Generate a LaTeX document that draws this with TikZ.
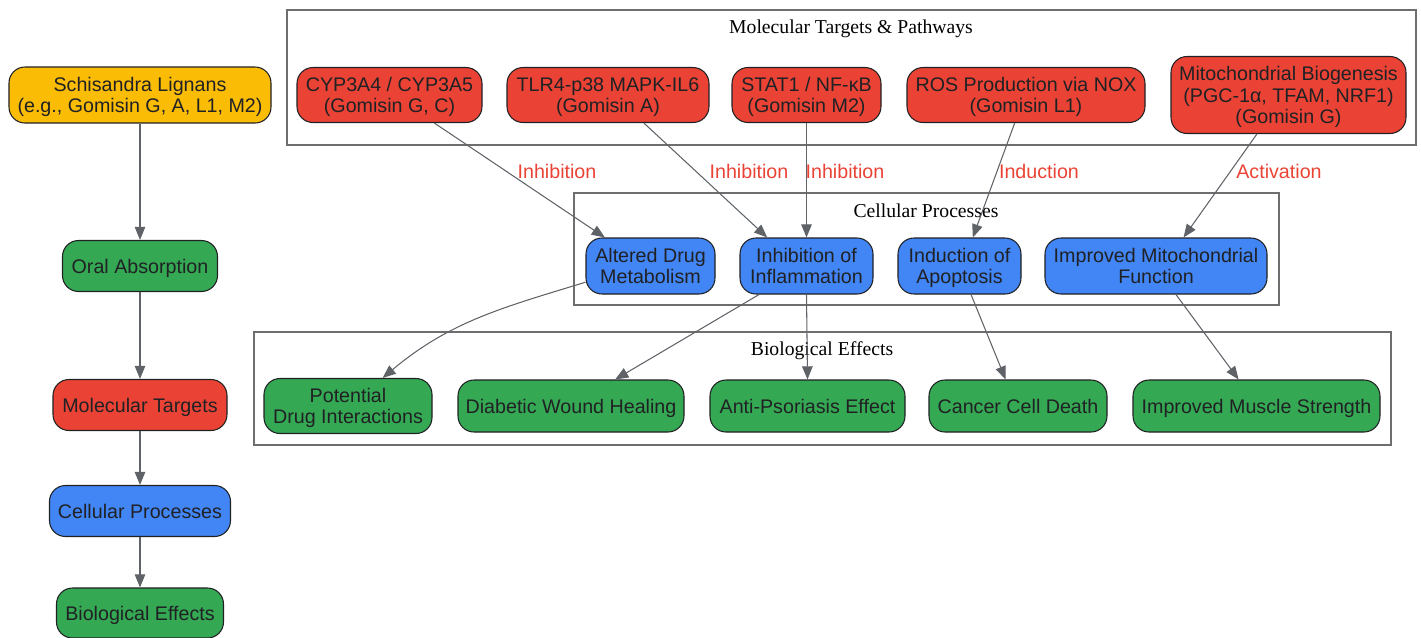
\documentclass[tikz,border=0pt]{standalone}
\usepackage{fontspec}
\setmainfont{Liberation Sans}
\newfontfamily\serifface{Liberation Serif}
\usetikzlibrary{arrows.meta}
\definecolor{gyellow}{HTML}{FBBC05}
\definecolor{gred}{HTML}{EA4335}
\definecolor{gblue}{HTML}{4285F4}
\definecolor{ggreen}{HTML}{34A853}
\definecolor{linkgray}{HTML}{5F6368}
\definecolor{framegray}{HTML}{6E6E6E}
\definecolor{boxtext}{HTML}{202124}

\begin{document}
\begin{tikzpicture}[x=0.02cm, y=-0.02cm,
	box/.style={draw=boxtext, line width=0.6pt, rounded corners=0.32cm, inner sep=0pt, text depth=0pt, align=center, text=boxtext, font=\fontsize{11.2}{12.2}\selectfont},
	sz/.style 2 args={minimum width=#1*0.02cm, minimum height=#2*0.02cm},
	link/.style={draw=linkgray, line width=0.6pt, -{Triangle[length=7.5pt,width=6pt]}},
	cluster/.style={draw=framegray, line width=0.6pt},
	clabel/.style={font=\serifface\fontsize{11.2}{12.2}\selectfont, text=black},
	elabel/.style={font=\fontsize{11.2}{12.2}\selectfont, text=gred}]
	\useasboundingbox (0,0) rectangle (1421,637);

	\draw[cluster] (287,10) rectangle (1416,145);
	\draw[cluster] (574,193) rectangle (1279,305);
	\draw[cluster] (254,332) rectangle (1391,445);
	\node[clabel] (molLabel) at (851,29) {Molecular Targets \& Pathways};
	\node[clabel] (cellLabel) at (926,211) {Cellular Processes};
	\node[clabel] (bioLabel) at (822,351) {Biological Effects};

	\node[box, fill=gyellow, sz={262}{56}] (lignans) at (140,95) {Schisandra Lignans\\(e.g., Gomisin G, A, L1, M2)};
	\node[box, fill=ggreen, sz={155}{51}] (oral) at (140,266) {Oral Absorption};
	\node[box, fill=gred, sz={174}{51}] (molTargets) at (140,405) {Molecular Targets};
	\node[box, fill=gblue, sz={181}{51}] (cellProc) at (140,511) {Cellular Processes};
	\node[box, fill=ggreen, sz={167}{50}] (bioEff) at (140,613) {Biological Effects};

	\node[box, fill=gred, sz={185}{55}] (cyp) at (389.5,95) {CYP3A4 / CYP3A5\\(Gomisin G, C)};
	\node[box, fill=gred, sz={202}{55}] (tlr) at (608,95) {TLR4-p38 MAPK-IL6\\(Gomisin A)};
	\node[box, fill=gred, sz={149}{55}] (stat) at (806.5,95) {STAT1 / NF-κB\\(Gomisin M2)};
	\node[box, fill=gred, sz={238}{55}] (ros) at (1026,95) {ROS Production via NOX\\(Gomisin L1)};
	\node[box, fill=gred, sz={235}{77}] (mito) at (1288.5,95) {Mitochondrial Biogenesis\\(PGC-1α, TFAM, NRF1)\\(Gomisin G)};

	\node[box, fill=gblue, sz={129}{56}] (drugMet) at (650.5,266) {Altered Drug\\Metabolism};
	\node[box, fill=gblue, sz={133}{56}] (inflam) at (806.5,266) {Inhibition of\\Inflammation};
	\node[box, fill=gblue, sz={123}{56}] (apop) at (959.5,266) {Induction of\\Apoptosis};
	\node[box, fill=gblue, sz={222}{56}] (mitoFunc) at (1156,266) {Improved Mitochondrial\\Function};

	\node[box, fill=ggreen, sz={168}{55}] (drugInt) at (348,406) {Potential\\Drug Interactions};
	\node[box, fill=ggreen, sz={226}{52}] (wound) at (571,406) {Diabetic Wound Healing};
	\node[box, fill=ggreen, sz={195}{52}] (psoriasis) at (807.5,406) {Anti-Psoriasis Effect};
	\node[box, fill=ggreen, sz={178}{52}] (cancer) at (1018,406) {Cancer Cell Death};
	\node[box, fill=ggreen, sz={247}{52}] (muscle) at (1256.5,406) {Improved Muscle Strength};

	\node[elabel] (lbCyp) at (557,171) {Inhibition};
	\node[elabel] (lbTlr) at (749,171) {Inhibition};
	\node[elabel] (lbStat) at (845,171) {Inhibition};
	\node[elabel] (lbRos) at (1039,171) {Induction};
	\node[elabel] (lbMito) at (1279,171) {Activation};

	\draw[link] (lignans) -- (oral);
	\draw[link] (oral) -- (molTargets);
	\draw[link] (molTargets) -- (cellProc);
	\draw[link] (cellProc) -- (bioEff);

	\draw[link] (cyp.-32) -- (drugMet.148);
	\draw[link] (tlr.-38) -- (inflam.144);
	\draw[link] (stat.south) -- (inflam.north);
	\draw[link] (ros.-112) -- (apop.65);
	\draw[link] (mito.-129) -- (mitoFunc.46);

	\draw[link] (drugMet.194) to[out=197, in=40] (drugInt.39);
	\draw[link] (inflam.-149) -- (wound.31);
	\draw[link] (inflam.south) -- (psoriasis.north);
	\draw[link] (apop.-68) -- (cancer.115);
	\draw[link] (mitoFunc.-55) -- (muscle.124);
\end{tikzpicture}
\end{document}
